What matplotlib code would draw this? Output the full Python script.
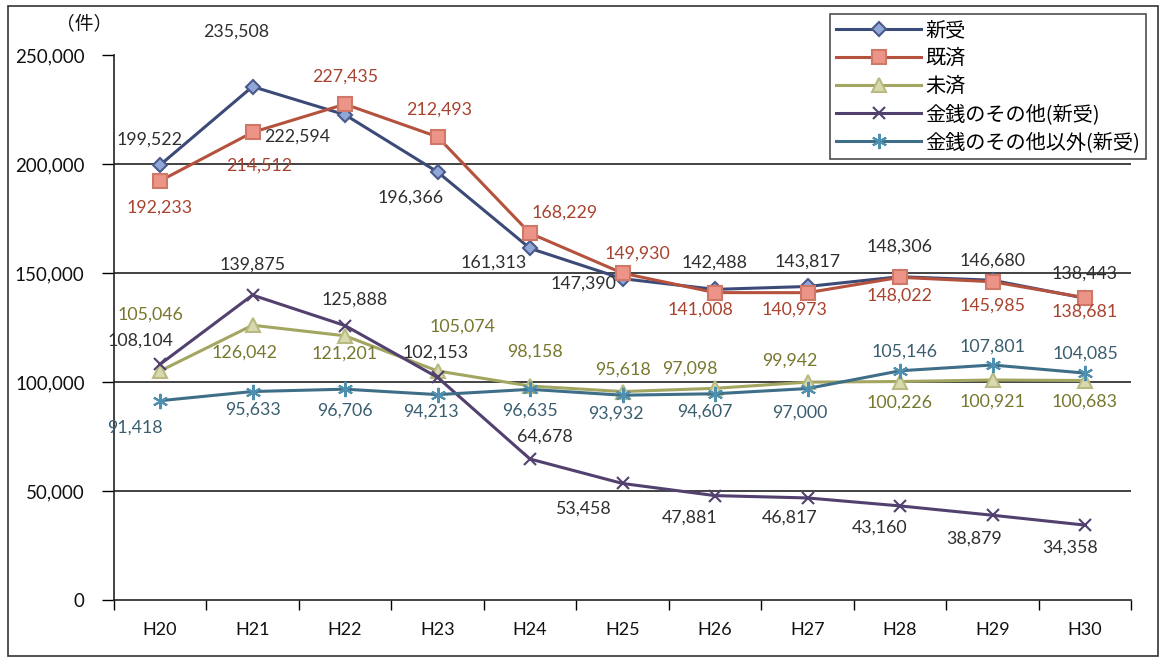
import matplotlib
matplotlib.use("Agg")
import matplotlib.pyplot as plt
from matplotlib.patches import Rectangle

plt.rcParams['font.family'] = ['Lato', 'Noto Sans CJK JP', 'DejaVu Sans']

years = ["H20", "H21", "H22", "H23", "H24", "H25", "H26", "H27", "H28", "H29", "H30"]
shinju = [199522, 235508, 222594, 196366, 161313, 147390, 142488, 143817, 148306, 146680, 138443]
kisai = [192233, 214512, 227435, 212493, 168229, 149930, 141008, 140973, 148022, 145985, 138681]
misai = [105046, 126042, 121201, 105074, 98158, 95618, 97098, 99942, 100226, 100921, 100683]
kinsen = [108104, 139875, 125888, 102153, 64678, 53458, 47881, 46817, 43160, 38879, 34358]
kinsen_igai = [91418, 95633, 96706, 94213, 96635, 93932, 94607, 97000, 105146, 107801, 104085]
series_names = ["新受", "既済", "未済", "金銭のその他(新受)", "金銭のその他以外(新受)"]
yticks = [0, 50000, 100000, 150000, 200000, 250000]

# label offsets in pixels (dx, dy) with dy positive upward
off_shinju = [(-10, 25), (-16, 55), (-48, -22), (-27, -26), (-36, -14), (-39, -5),
              (0, 27), (0, 25), (0, 30), (0, 20), (0, 25)]
off_kisai = [(0, -27), (7, -33), (0, 28), (2, 27), (35, 21), (15, 20),
             (-15, -17), (-13, -17), (0, -18), (0, -24), (0, -14)]
off_misai = [(-10, 56), (-8, -27), (0, -18), (25, 44), (5, 34), (0, 22),
             (-25, 20), (-18, 22), (0, -21), (0, -22), (0, -21)]
off_kinsen = [(-20, 24), (0, 30), (10, 26), (-2, 25), (15, 22), (-40, -25),
              (-25, -22), (-18, -20), (-20, -22), (-18, -23), (-15, -23)]
off_igai = [(-25, -27), (0, -18), (0, -21), (-7, -17), (0, -21), (-7, -18),
            (-10, -18), (-8, -24), (5, 19), (0, 18), (0, 19)]

fig = plt.figure(figsize=(11.65, 6.59), dpi=100)
ax = fig.add_axes([113.75 / 1165, 1 - 600 / 659, (1131.25 - 113.75) / 1165, 545 / 659])

x = list(range(len(years)))

styles = [
    dict(data=shinju, color="#3C4A78", marker="D", ms=7, mfc="#8FA8D8", mec="#4A5A8A", lab="#2E2E2E", off=off_shinju),
    dict(data=kisai, color="#B4523E", marker="s", ms=10, mfc="#EC9488", mec="#D07868", lab="#A8432F", off=off_kisai),
    dict(data=misai, color="#A3A660", marker="^", ms=10, mfc="#D8D9AE", mec="#B8BA80", lab="#77772E", off=off_misai),
    dict(data=kinsen, color="#52406E", marker="x", ms=9, mfc="#52406E", mec="#52406E", lab="#2E2E2E", off=off_kinsen),
    dict(data=kinsen_igai, color="#3E6E88", marker=(6, 2, 0), ms=11, mfc="#6FAFD0", mec="#4F8FB0", lab="#3A5E70", off=off_igai),
]

for name, s in zip(series_names, styles):
    ax.plot(x, s["data"], color=s["color"], lw=2.2, marker=s["marker"], ms=s["ms"],
            mfc=s["mfc"], mec=s["mec"], mew=1.5, label=name, zorder=3)
    for xi, v, (dx, dy) in zip(x, s["data"], s["off"]):
        ax.annotate(f"{v:,}", (xi, v), xytext=(dx, dy), textcoords="offset pixels",
                    ha="center", va="center", fontsize=12.8, color=s["lab"], zorder=4,
                    annotation_clip=False)

ax.set_xlim(-0.5, len(years) - 0.5)
ax.set_ylim(0, 250000)
ax.set_yticks(yticks)
ax.set_yticklabels([f"{v:,}" for v in yticks], fontsize=13.5, color="#111111")
ax.set_xticks(x)
ax.set_xticklabels(years, fontsize=13, color="#111111")
ax.set_xticks([i - 0.5 for i in range(len(years) + 1)], minor=True)
ax.tick_params(axis="x", which="major", length=0, pad=16)
ax.tick_params(axis="x", which="minor", length=7, width=1, direction="out")
ax.tick_params(axis="y", length=9, width=1, direction="out", pad=12)
for v in [50000, 100000, 150000, 200000]:
    ax.axhline(v, color="#222222", lw=1.2, zorder=1)
for side in ["top", "right"]:
    ax.spines[side].set_visible(False)
for side in ["left", "bottom"]:
    ax.spines[side].set_color("#222222")
    ax.spines[side].set_linewidth(1.2)

fig.text(84 / 1165, 1 - 24 / 659, "（件）", ha="center", va="center", fontsize=13.5,
         family=["Noto Sans CJK JP", "DejaVu Sans"], color="#111111")

leg = fig.legend(loc="upper right", bbox_to_anchor=(1146 / 1165, 1 - 14 / 659),
                 prop={"family": ["Noto Sans CJK JP", "DejaVu Sans"], "size": 14.5},
                 frameon=True, fancybox=False, edgecolor="#222222", handlelength=4.2,
                 borderpad=0.3, labelspacing=0.35, handletextpad=0.2, borderaxespad=0)
leg.get_frame().set_linewidth(1.2)

fig.patches.append(Rectangle((8 / 1165, 3 / 659), 1150 / 1165, 650 / 659, transform=fig.transFigure,
                             fill=False, edgecolor="#333333", lw=1.2))

fig.savefig("out.png", dpi=100)
